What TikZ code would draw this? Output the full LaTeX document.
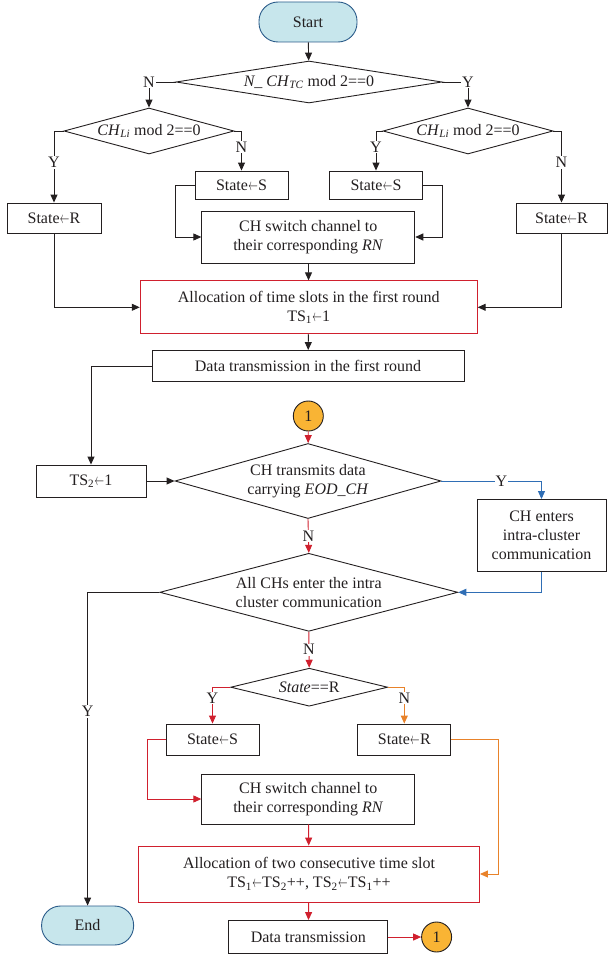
\documentclass[tikz,border=0pt]{standalone}
\usepackage{fontspec}
\setmainfont{Liberation Serif}
\usetikzlibrary{arrows.meta,shapes.geometric}
\definecolor{linec}{HTML}{231F20}
\definecolor{redc}{HTML}{D0202E}
\definecolor{bluec}{HTML}{2F6EB5}
\definecolor{orangec}{HTML}{E8822A}
\definecolor{termfill}{HTML}{C7E6EC}
\definecolor{termdraw}{HTML}{2B5C8A}
\definecolor{circfill}{HTML}{F9B434}
\newcommand{\larr}{\kern0.3pt\scalebox{0.55}[0.95]{$\leftarrow$}\kern0.3pt}
\begin{document}
\begin{tikzpicture}[x=1pt,y=-1pt,
  font=\fontsize{16}{19}\selectfont,
  >={Triangle[length=8pt,width=7pt]},
  every path/.style={line width=0.9pt},
  conn/.style={draw=linec,->},
  rconn/.style={draw=redc,->},
  bconn/.style={draw=bluec,->},
  oconn/.style={draw=orangec,->},
  stepbox/.style={draw=linec,line width=0.9pt,inner sep=0pt,align=center,text=linec},
  redbox/.style={draw=redc,line width=0.9pt,inner sep=0pt,align=center,text=linec},
  term/.style={draw=termdraw,fill=termfill,line width=0.9pt,rounded corners=19pt,inner sep=0pt,text=linec},
  dia/.style={draw=linec,shape=diamond,line width=0.9pt,inner sep=0pt,align=center,text=linec},
  conncirc/.style={draw=linec,fill=circfill,shape=circle,line width=0.9pt,minimum size=30pt,inner sep=0pt,text=linec},
  lab/.style={fill=white,inner sep=1pt,text=linec}]
\useasboundingbox (0,0) rectangle (608,958);

\node[term,minimum width=98pt,minimum height=40pt] (start) at (308,22) {Start};
\node[dia,minimum width=266pt,minimum height=42pt,aspect=6.3] (d1) at (309,82) {\textit{N\_\ CH}\textsubscript{\textit{TC}} mod 2==0};
\node[dia,minimum width=170pt,minimum height=46pt,aspect=3.7] (d2) at (149,131) {\textit{CH}\textsubscript{\textit{Li}} mod 2==0};
\node[dia,minimum width=170pt,minimum height=46pt,aspect=3.7] (d3) at (468,131) {\textit{CH}\textsubscript{\textit{Li}} mod 2==0};
\node[stepbox,minimum width=94pt,minimum height=30pt] (sr1) at (54,218) {State\larr R};
\node[stepbox,minimum width=93pt,minimum height=28pt] (ss1) at (241.5,185) {State\larr S};
\node[stepbox,minimum width=93pt,minimum height=28pt] (ss2) at (376,185) {State\larr S};
\node[stepbox,minimum width=91pt,minimum height=30pt] (sr2) at (561.5,218) {State\larr R};
\node[stepbox,minimum width=213pt,minimum height=52pt] (ch1) at (308.3,237) {CH switch channel to\\their corresponding \textit{RN}};
\node[redbox,minimum width=337pt,minimum height=53pt] (alloc1) at (308.7,307.3) {Allocation of time slots in the first round\\TS\textsubscript{1}\larr 1};
\node[stepbox,minimum width=312pt,minimum height=31pt] (data1) at (308,366) {Data transmission in the first round};
\node[conncirc] (c1) at (308.3,416) {1};
\node[dia,minimum width=266pt,minimum height=75pt,aspect=3.55] (d4) at (308,481) {CH transmits data\\carrying \textit{EOD\_CH}};
\node[stepbox,minimum width=110pt,minimum height=32pt] (ts2) at (91,481) {TS\textsubscript{2}\larr 1};
\node[stepbox,minimum width=129pt,minimum height=72pt] (chent) at (541.5,535.5) {CH enters\\intra-cluster\\communication};
\node[dia,minimum width=298pt,minimum height=78pt,aspect=3.8] (d5) at (308.8,592.3) {All CHs enter the intra\\cluster communication};
\node[dia,minimum width=157pt,minimum height=38pt,aspect=4.1] (d6) at (309.2,687.2) {\textit{State}==R};
\node[stepbox,minimum width=93pt,minimum height=31pt] (ss3) at (212.5,739.5) {State\larr S};
\node[stepbox,minimum width=93pt,minimum height=31pt] (sr3) at (404.3,739.5) {State\larr R};
\node[stepbox,minimum width=213pt,minimum height=50pt] (ch2) at (308.3,799) {CH switch channel to\\their corresponding \textit{RN}};
\node[redbox,minimum width=341pt,minimum height=56pt] (alloc2) at (309,874) {Allocation of two consecutive time slot\\TS\textsubscript{1}\larr TS\textsubscript{2}++, TS\textsubscript{2}\larr TS\textsubscript{1}++};
\node[stepbox,minimum width=159pt,minimum height=33pt] (data2) at (308.3,937) {Data transmission};
\node[conncirc] (c2) at (436.6,937) {1};
\node[term,minimum width=92pt,minimum height=39pt] (end) at (87.6,925.5) {End};

\draw[conn] (start) -- (d1);
\draw[conn] (d1.west) -- (149,82) node[lab]{N} -- (d2.north);
\draw[conn] (d1.east) -- (468,82) node[lab]{Y} -- (d3.north);
\draw[conn] (d2.west) -- (54,131) -- node[lab,pos=0.44]{Y} (sr1.north);
\draw[conn] (d2.east) -- (241.5,131) -- node[lab,pos=0.4]{N} (ss1.north);
\draw[conn] (d3.west) -- (376,131) -- node[lab,pos=0.4]{Y} (ss2.north);
\draw[conn] (d3.east) -- (561.5,131) -- node[lab,pos=0.44]{N} (sr2.north);
\draw[conn] (ss1.west) -- (175.6,185) |- (ch1.west);
\draw[conn] (ss2.east) -- (442,185) |- (ch1.east);
\draw[conn] (ch1) -- (alloc1);
\draw[conn] (sr1.south) |- (alloc1.west);
\draw[conn] (sr2.south) |- (alloc1.east);
\draw[conn] (alloc1) -- (data1);
\draw[conn] (data1.west) -| (ts2.north);
\draw[conn] (ts2.east) -- (d4.west);
\draw[rconn] (c1) -- (d4);
\draw[bconn] (d4.east) -| node[lab,pos=0.3]{Y} (chent.north);
\draw[rconn] (d4.south) -- node[lab]{N} (d5.north);
\draw[bconn] (chent.south) |- (d5.east);
\draw[conn] (d5.west) -| node[lab,pos=0.69]{Y} (end.north);
\draw[rconn] (d5.south) -- node[lab]{N} (d6.north);
\draw[rconn] (d6.west) -| node[lab,pos=0.65]{Y} (ss3.north);
\draw[oconn] (d6.east) -| node[lab,pos=0.65]{N} (sr3.north);
\draw[rconn] (ss3.west) -- (147.3,739.5) |- (ch2.west);
\draw[oconn] (sr3.east) -- (498.3,739.5) |- (alloc2.east);
\draw[rconn] (ch2) -- (alloc2);
\draw[rconn] (alloc2) -- (data2);
\draw[rconn] (data2) -- (c2);
\end{tikzpicture}
\end{document}
